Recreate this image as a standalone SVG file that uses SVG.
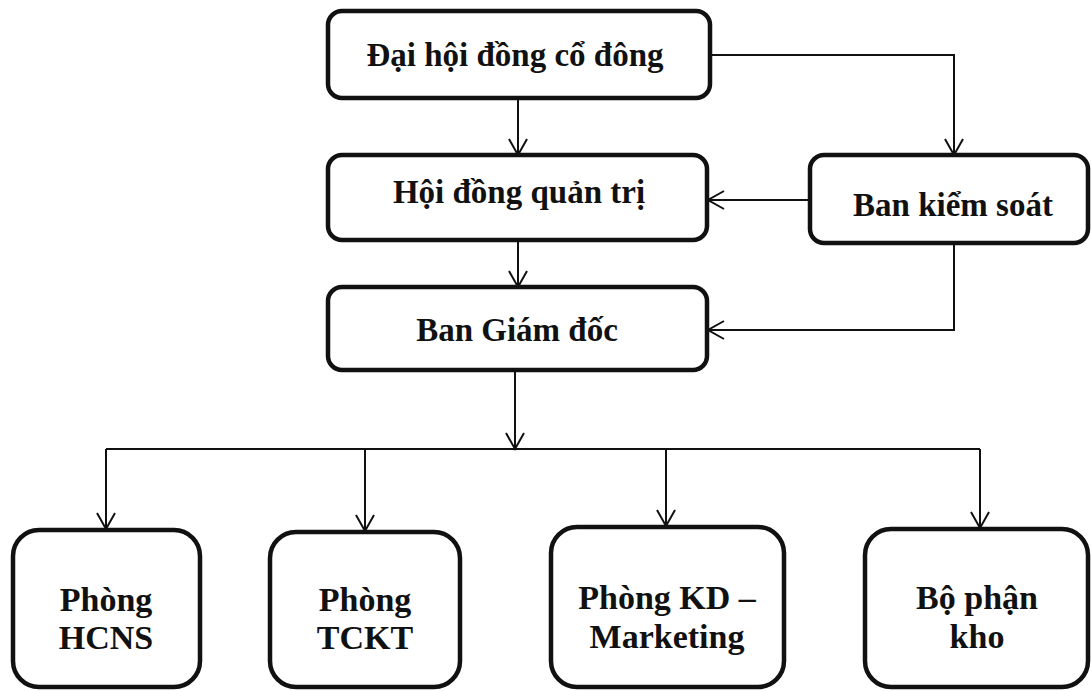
<svg xmlns="http://www.w3.org/2000/svg" width="1091" height="691" viewBox="0 0 1091 691">
<defs>
<marker id="arr" markerUnits="userSpaceOnUse" markerWidth="24" markerHeight="24" refX="17" refY="10" orient="auto" viewBox="0 0 24 20">
<path d="M1,1 L17,10 L1,19" fill="none" stroke="#111" stroke-width="2"/>
</marker>
<style>
.box{fill:#fff;stroke:#111;stroke-width:4.5}
.t{font-family:"Liberation Serif","Times New Roman",serif;font-weight:bold;font-size:33px;fill:#111;text-anchor:middle}
.b{font-size:34px}
.c{fill:none;stroke:#111;stroke-width:2}
</style>
</defs>
<rect width="1091" height="691" fill="#fff"/>
<g id="connectors">
<path class="c" d="M518,98 V155" marker-end="url(#arr)"/>
<path class="c" d="M518,240 V287" marker-end="url(#arr)"/>
<path class="c" d="M710,55 H954 V155" marker-end="url(#arr)"/>
<path class="c" d="M810,200 H708" marker-end="url(#arr)"/>
<path class="c" d="M954,243 V330 H708" marker-end="url(#arr)"/>
<path class="c" d="M515,370 V449" marker-end="url(#arr)"/>
<path class="c" d="M106,449 H980"/>
<path class="c" d="M106,449 V529" marker-end="url(#arr)"/>
<path class="c" d="M365,449 V531" marker-end="url(#arr)"/>
<path class="c" d="M666,449 V526" marker-end="url(#arr)"/>
<path class="c" d="M980,449 V528" marker-end="url(#arr)"/>
</g>
<g id="n1"><rect class="box" x="328" y="11" width="382" height="87" rx="14"/><text class="t" x="515" y="66">Đại hội đồng cổ đông</text></g>
<g id="n2"><rect class="box" x="328" y="155" width="379" height="85" rx="14"/><text class="t" x="519" y="203">Hội đồng quản trị</text></g>
<g id="n3"><rect class="box" x="328" y="287" width="379" height="83" rx="14"/><text class="t" x="517" y="341">Ban Giám đốc</text></g>
<g id="n4"><rect class="box" x="810" y="155" width="278" height="88" rx="14"/><text class="t" x="953" y="216">Ban kiểm soát</text></g>
<g id="n5"><rect class="box" x="13" y="530" width="187" height="157" rx="26"/><text class="t b" x="106" y="611">Phòng</text><text class="t b" x="106" y="649">HCNS</text></g>
<g id="n6"><rect class="box" x="270" y="532" width="190" height="155" rx="26"/><text class="t b" x="365" y="611">Phòng</text><text class="t b" x="365" y="649">TCKT</text></g>
<g id="n7"><rect class="box" x="551" y="527" width="233" height="160" rx="26"/><text class="t b" x="667" y="609">Phòng KD –</text><text class="t b" x="667" y="648">Marketing</text></g>
<g id="n8"><rect class="box" x="865" y="529" width="223" height="158" rx="26"/><text class="t b" x="977" y="609">Bộ phận</text><text class="t b" x="977" y="648">kho</text></g>
</svg>
